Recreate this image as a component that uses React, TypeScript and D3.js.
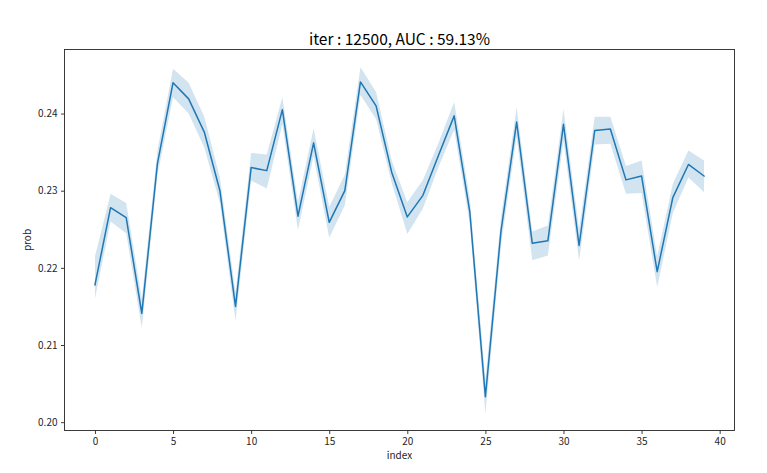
import React, { useEffect, useRef } from 'react'
import * as d3 from 'd3'

const indices = d3.range(0, 40)
const probMean = [
  0.2178, 0.2278, 0.2265, 0.2141, 0.2335, 0.244, 0.2419, 0.2376, 0.23, 0.215,
  0.233, 0.2326, 0.2405, 0.2267, 0.2362, 0.2259, 0.23, 0.2441, 0.241, 0.2324,
  0.2266, 0.2294, 0.2346, 0.2397, 0.2273, 0.2033, 0.2248, 0.2389, 0.2232, 0.2235,
  0.2386, 0.2229, 0.2378, 0.238, 0.2314, 0.2319, 0.2195, 0.2291, 0.2334, 0.2319,
]
const probLow = [
  0.216, 0.226, 0.2245, 0.2122, 0.232, 0.2421, 0.24, 0.2356, 0.2284, 0.2131,
  0.2313, 0.2303, 0.2386, 0.2249, 0.2345, 0.2239, 0.2281, 0.2424, 0.2393, 0.231,
  0.2244, 0.2277, 0.2331, 0.2379, 0.2257, 0.2011, 0.223, 0.237, 0.221, 0.2216,
  0.2365, 0.2209, 0.236, 0.2361, 0.2296, 0.2297, 0.2175, 0.2271, 0.2317, 0.2298,
]
const probHigh = [
  0.2215, 0.2296, 0.2284, 0.216, 0.2352, 0.2458, 0.244, 0.2396, 0.2317, 0.2168,
  0.2349, 0.2347, 0.2421, 0.2285, 0.2381, 0.2279, 0.2321, 0.246, 0.2428, 0.2339,
  0.2285, 0.2314, 0.2362, 0.2415, 0.229, 0.2055, 0.2266, 0.2408, 0.2247, 0.2255,
  0.2406, 0.225, 0.2396, 0.2396, 0.2332, 0.2339, 0.2215, 0.2309, 0.2352, 0.2339,
]
const xTicks = [0, 5, 10, 15, 20, 25, 30, 35, 40]
const yTicks = [0.2, 0.21, 0.22, 0.23, 0.24]

const W = 767
const H = 473
const margin = { top: 49.5, right: 32.5, bottom: 42.5, left: 64.5 }
const FONT = '"Noto Sans CJK KR", "Noto Sans", sans-serif'

const App = () => {
  const svg = useRef(null)

  useEffect(() => {
    const d3svg = d3.select(svg.current)
    d3svg.selectAll('*').remove()

    const innerW = W - margin.left - margin.right
    const innerH = H - margin.top - margin.bottom

    const xScale = d3.scaleLinear().domain([-1.95, 40.95]).range([0, innerW])
    const yScale = d3.scaleLinear().domain([0.19892, 0.2483]).range([innerH, 0])

    const data = indices.map((i, k) => ({
      x: i,
      mean: probMean[k],
      low: probLow[k],
      high: probHigh[k],
    }))

    const g = d3svg.append('g').attr('transform', `translate(${margin.left}, ${margin.top})`)

    // confidence band
    const area = d3
      .area<any>()
      .x(d => xScale(d.x))
      .y0(d => yScale(d.low))
      .y1(d => yScale(d.high))
    g.append('path').datum(data).attr('d', area).attr('fill', '#1f77b4').attr('fill-opacity', 0.2)

    const line = d3
      .line<any>()
      .x(d => xScale(d.x))
      .y(d => yScale(d.mean))
    g.append('path')
      .datum(data)
      .attr('d', line)
      .attr('fill', 'none')
      .attr('stroke', '#1f77b4')
      .attr('stroke-width', 1.5)
      .attr('stroke-linejoin', 'round')
      .attr('stroke-linecap', 'square')

    // frame
    g.append('rect')
      .attr('width', innerW)
      .attr('height', innerH)
      .attr('fill', 'none')
      .attr('stroke', '#262626')
      .attr('stroke-width', 0.9)

    const xAxis = d3
      .axisBottom(xScale)
      .tickValues(xTicks)
      .tickSize(3.5)
      .tickPadding(3.5)
      .tickFormat(d3.format('d'))
    const gx = g.append('g').attr('transform', `translate(0, ${innerH})`).call(xAxis)

    const yAxis = d3
      .axisLeft(yScale)
      .tickValues(yTicks)
      .tickSize(3.5)
      .tickPadding(3.5)
      .tickFormat(d3.format('.2f'))
    const gy = g.append('g').call(yAxis)

    for (const ax of [gx, gy]) {
      ax.select('.domain').remove()
      ax.selectAll('line').attr('stroke', '#262626').attr('stroke-width', 0.9)
      ax.selectAll('text')
        .attr('fill', '#262626')
        .style('font-family', FONT)
        .style('font-size', '10px')
    }

    d3svg
      .append('text')
      .attr('x', margin.left + innerW / 2)
      .attr('y', 459)
      .attr('text-anchor', 'middle')
      .attr('fill', '#262626')
      .style('font-family', FONT)
      .style('font-size', '10px')
      .text('index')

    d3svg
      .append('text')
      .attr('transform', `translate(31, ${margin.top + innerH / 2}) rotate(-90)`)
      .attr('text-anchor', 'middle')
      .attr('fill', '#262626')
      .style('font-family', FONT)
      .style('font-size', '10px')
      .text('prob')

    d3svg
      .append('text')
      .attr('x', margin.left + innerW / 2)
      .attr('y', 45)
      .attr('text-anchor', 'middle')
      .attr('fill', '#000')
      .style('font-family', FONT)
      .style('font-size', '15.5px')
      .text('iter : 12500, AUC : 59.13%')
  }, [])

  return (
    <div style={{ position: 'absolute', left: 0, top: 0, background: '#fff' }}>
      <svg ref={svg} width={W} height={H} style={{ display: 'block' }}></svg>
    </div>
  )
}

export default App
